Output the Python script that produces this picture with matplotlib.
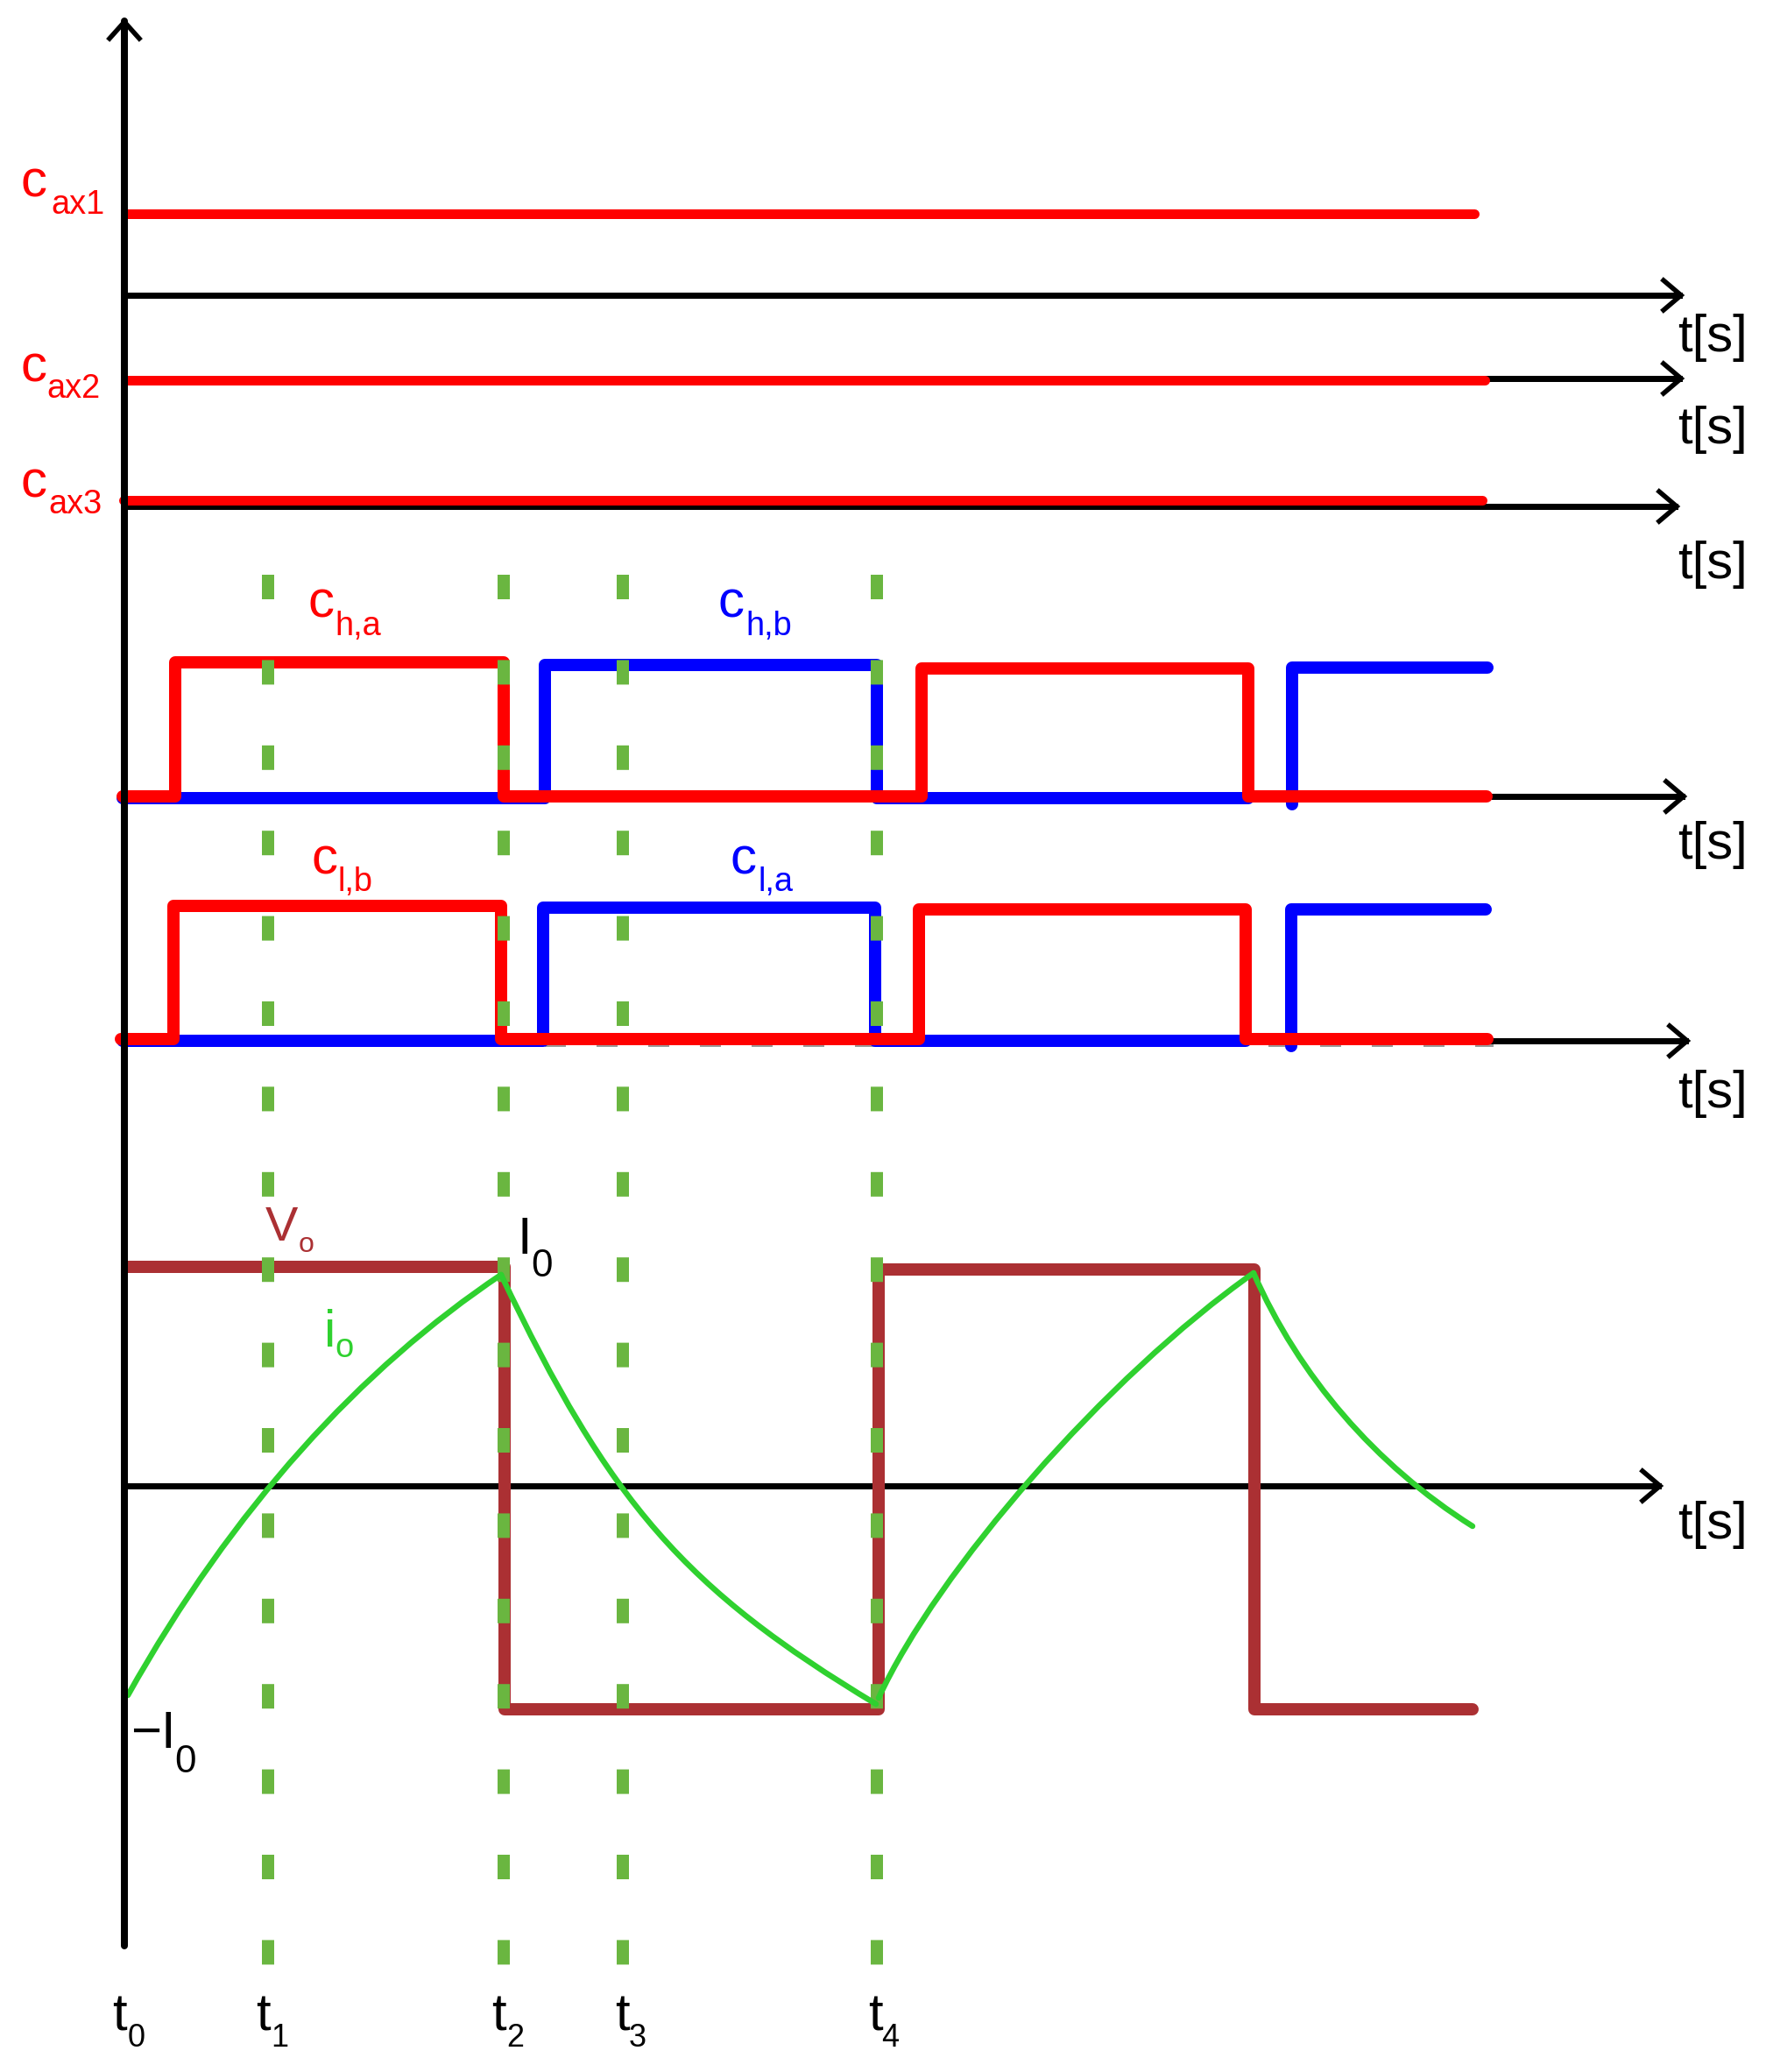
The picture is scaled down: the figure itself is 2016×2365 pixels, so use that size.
import matplotlib
matplotlib.use('Agg')
import matplotlib.pyplot as plt
from matplotlib.path import Path
from matplotlib.patches import PathPatch

plt.rcParams['font.family'] = ['Liberation Sans', 'DejaVu Sans']
plt.rcParams['lines.scale_dashes'] = False

t_marks = [306, 575, 711, 1001]

axis_y_x = 142
axis_y_top, axis_y_bottom = 21, 2221
t_axes_y = [337, 432, 578, 909, 1188, 1696]
t_axes_end = [1920, 1920, 1915, 1923, 1927, 1896]
t_unit_base = [401, 506, 660, 980, 1264, 1756]

cax_y = [244, 434, 571]
cax_start = [145, 143, 141]
cax_end = [1683, 1695, 1692]

high_red_x = [140, 200, 200, 575, 575, 1052, 1052, 1425, 1425, 1697]
high_red_y = [909, 909, 756, 756, 909, 909, 763, 763, 909, 909]
high_blue_x = [140, 622, 622, 1001, 1001, 1425]
high_blue_y = [911, 911, 759, 759, 911, 911]
high_blue2_x = [1475, 1475, 1698]
high_blue2_y = [918, 762, 762]

low_red_x = [138, 198, 198, 572, 572, 1049, 1049, 1422, 1422, 1698]
low_red_y = [1186, 1186, 1034, 1034, 1186, 1186, 1038, 1038, 1186, 1186]
low_blue_x = [140, 620, 620, 999, 999, 1422]
low_blue_y = [1188, 1188, 1036, 1036, 1188, 1188]
low_blue2_x = [1474, 1474, 1696]
low_blue2_y = [1194, 1038, 1038]

vo_x = [145, 576, 576, 1003, 1003, 1432, 1432, 1681]
vo_y = [1446, 1446, 1951, 1951, 1449, 1449, 1951, 1951]

# i_o arcs, start / two bezier handles / end
io1_x = [146, 266, 412, 572]
io1_y = [1935, 1721, 1562, 1455]
io2_x = [572, 696, 782, 1000]
io2_y = [1455, 1716, 1814, 1945]
io3_x = [1003, 1070, 1262, 1431]
io3_y = [1938, 1793, 1572, 1453]
io4_x = [1431, 1483, 1570, 1681]
io4_y = [1453, 1571, 1672, 1742]

# text: label, x, baseline, sub, sub x, sub baseline, colour
big_px = 60
sub_px = 38
labels = [
    ('c', 24, 224, 'ax1', 58, 244, '#ff0000'),
    ('c', 24, 435, 'ax2', 53, 454, '#ff0000'),
    ('c', 24, 567, 'ax3', 55, 586, '#ff0000'),
    ('c', 351, 704, 'h,a', 382, 725, '#ff0000'),
    ('c', 820, 704, 'h,b', 851, 725, '#0000ff'),
    ('c', 356, 997, 'l,b', 386, 1017, '#ff0000'),
    ('c', 834, 997, 'l,a', 865, 1017, '#0000ff'),
    ('i', 370, 1537, 'o', 382, 1549, '#2fd12f'),
]
black_labels = [
    ('I', 591, 1431, '0', 606, 1457, 44),
    ('\u2212I', 149, 1995, '0', 199, 2023, 44),
    ('t', 128, 2317, '0', 146, 2336, 36),
    ('t', 292, 2317, '1', 309, 2336, 36),
    ('t', 561, 2317, '2', 578, 2336, 36),
    ('t', 702, 2317, '3', 718, 2336, 36),
    ('t', 991, 2317, '4', 1006, 2336, 36),
]

px = 0.72  # one image pixel in points at dpi 100

fig = plt.figure(figsize=(20.16, 23.65), dpi=100)
ax = fig.add_axes([0, 0, 1, 1])
ax.set_xlim(0, 2016)
ax.set_ylim(2365, 0)
ax.axis('off')

# faint grey dashes showing under the lower pulses
ax.plot([622, 1705], [1190, 1190], color='#9a9a9a', lw=10 * px, dashes=(24 * px, 35 * px),
        dash_capstyle='butt', zorder=1)

# time axes with open arrow heads
for y, xe in zip(t_axes_y, t_axes_end):
    ax.plot([axis_y_x, xe - 3], [y, y], color='k', lw=7 * px, zorder=2)
    ax.plot([xe - 21, xe - 1, xe - 21], [y - 17, y, y + 17], color='k', lw=5.5 * px,
            solid_joinstyle='miter', zorder=2)

# red lines on top
for y, xs, xe in zip(cax_y, cax_start, cax_end):
    ax.plot([xs, xe], [y, y], color='#ff0000', lw=11 * px, solid_capstyle='round', zorder=3)

for x, y in [(high_blue_x, high_blue_y), (high_blue2_x, high_blue2_y),
             (low_blue_x, low_blue_y), (low_blue2_x, low_blue2_y)]:
    ax.plot(x, y, color='#0000ff', lw=14 * px, solid_capstyle='round',
            solid_joinstyle='round', zorder=4)
for x, y in [(high_red_x, high_red_y), (low_red_x, low_red_y)]:
    ax.plot(x, y, color='#ff0000', lw=14 * px, solid_capstyle='round',
            solid_joinstyle='round', zorder=5)

ax.plot(vo_x, vo_y, color='#ab3033', lw=14 * px, solid_capstyle='round',
        solid_joinstyle='round', zorder=5)

# dashed time marks
for x in t_marks:
    ax.plot([x, x], [656, 2243], color='#6ab640', lw=14 * px,
            dashes=(28 * px, 69.4 * px), dash_capstyle='butt', zorder=6)

codes = [Path.MOVETO, Path.CURVE4, Path.CURVE4, Path.CURVE4]
for xs, ys in [(io1_x, io1_y), (io2_x, io2_y), (io3_x, io3_y), (io4_x, io4_y)]:
    ax.add_patch(PathPatch(Path(list(zip(xs, ys)), codes), fill=False, edgecolor='#2fd12f',
                           lw=6.5 * px, capstyle='round', zorder=7))

# vertical axis
ax.plot([axis_y_x, axis_y_x], [axis_y_top + 3, axis_y_bottom], color='k', lw=8 * px,
        solid_capstyle='round', zorder=8)
ax.plot([axis_y_x - 17, axis_y_x, axis_y_x + 17], [axis_y_top + 23, axis_y_top + 4, axis_y_top + 23],
        color='k', lw=5.5 * px, solid_joinstyle='miter', zorder=8)

for main, x, y, sub, sx, sy, col in labels:
    ax.text(x, y, main, color=col, fontsize=big_px * px, va='baseline', ha='left', zorder=9)
    ax.text(sx, sy, sub, color=col, fontsize=sub_px * px, va='baseline', ha='left', zorder=9)
ax.text(303, 1416, 'V', color='#ab3033', fontsize=56 * px, va='baseline', ha='left', zorder=9)
ax.text(341, 1429, 'o', color='#ab3033', fontsize=32 * px, va='baseline', ha='left', zorder=9)
for main, x, y, sub, sx, sy, size in black_labels:
    ax.text(x, y, main, color='k', fontsize=big_px * px, va='baseline', ha='left', zorder=9)
    ax.text(sx, sy, sub, color='k', fontsize=size * px, va='baseline', ha='left', zorder=9)
for y in t_unit_base:
    ax.text(1915, y, 't[s]', color='k', fontsize=big_px * px, va='baseline', ha='left', zorder=9)

fig.savefig('out.png', dpi=100, facecolor='white')
